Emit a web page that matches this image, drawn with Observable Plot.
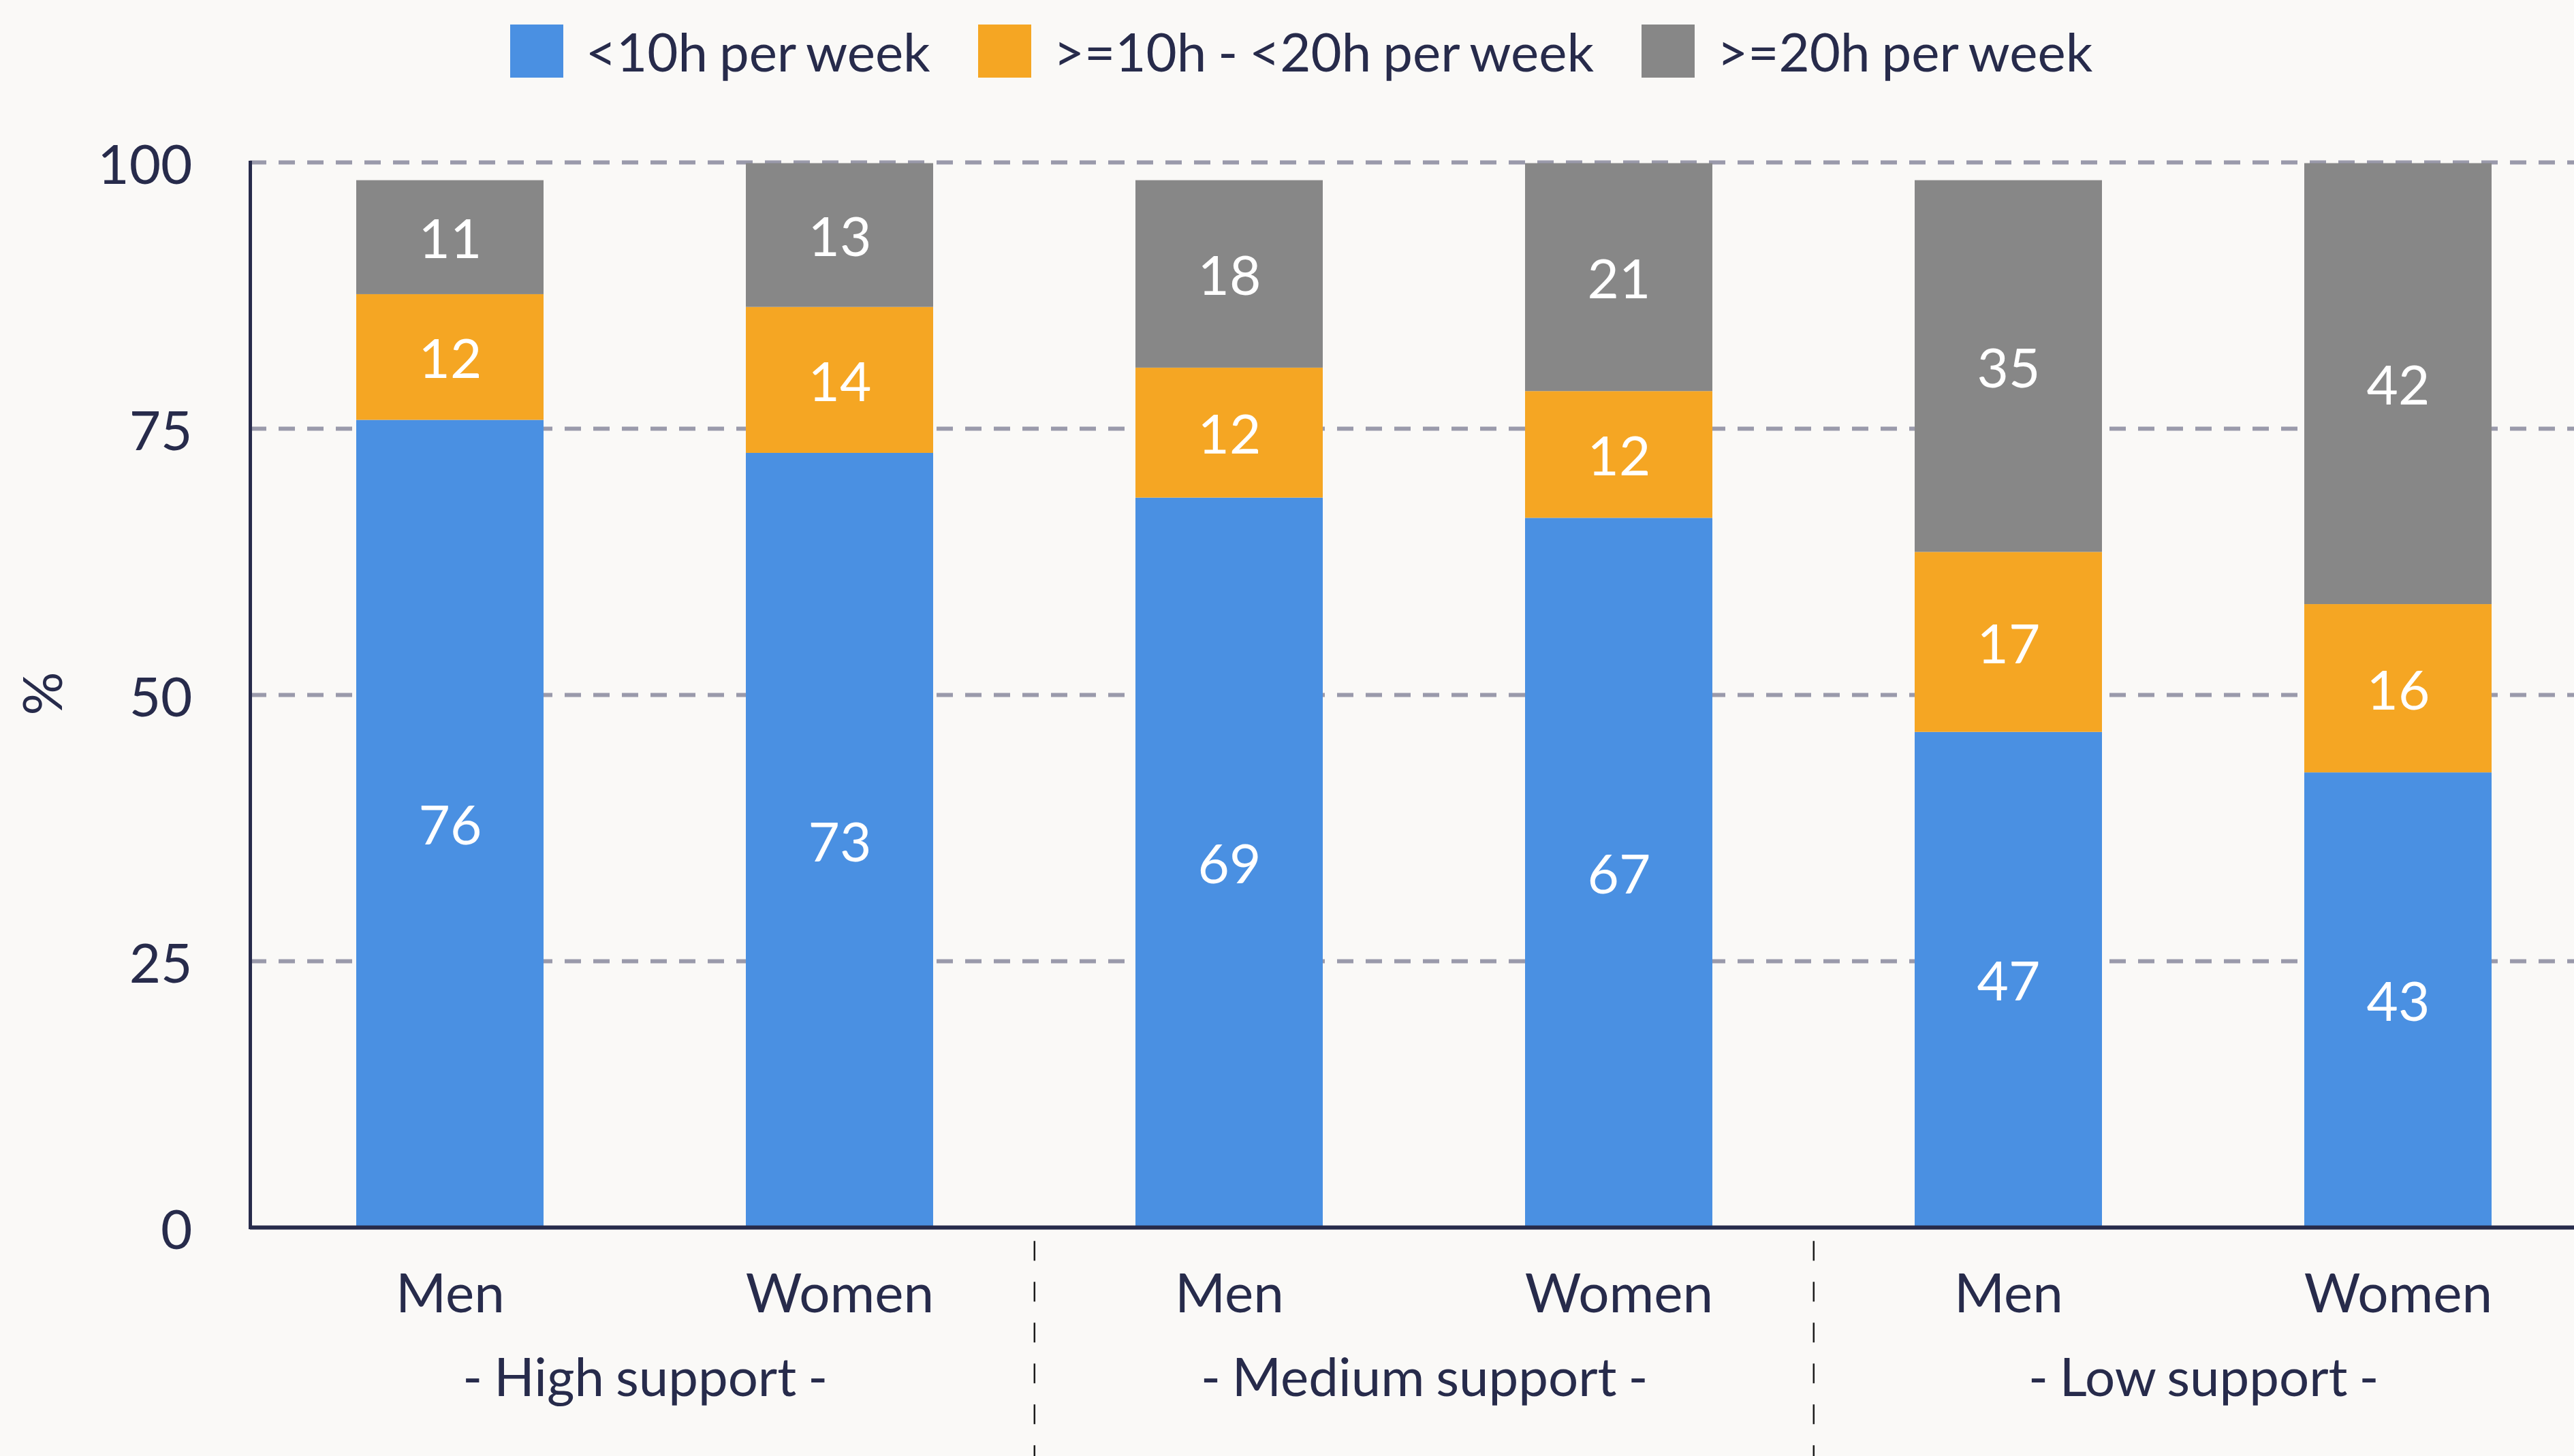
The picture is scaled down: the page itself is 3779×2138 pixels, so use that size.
<!DOCTYPE html>
<html>
<head>
<meta charset="utf-8">
<script src="https://cdn.jsdelivr.net/npm/d3@7"></script>
<script src="https://cdn.jsdelivr.net/npm/@observablehq/plot@0.6"></script>
<style>
  html, body { margin: 0; padding: 0; background: #faf9f7; overflow: hidden; width: 3779px; height: 2138px; }
  #legend { height: 150px; display: flex; justify-content: center; align-items: center; padding-left: 42px; box-sizing: border-box;
            font-family: Lato, sans-serif; font-size: 78px; color: #272b4b; line-height: 1; word-spacing: -3px; }
  .item { display: flex; align-items: center; margin-right: 70px; }
  .item:last-child { margin-right: 0; }
  .sw { width: 78px; height: 78px; margin-right: 33px; }
  #chart svg { display: block; }
  .grp text { word-spacing: -3px; }
</style>
</head>
<body>
<div id="legend"></div>
<div id="chart"></div>
<script>
// ---- data ----
const groups = ["High support", "Medium support", "Low support"];
const genders = ["Men", "Women"];
const seriesNames = ["<10h per week", ">=10h - <20h per week", ">=20h per week"];
const seriesColors = ["#4a90e2", "#f5a623", "#878787"];
// bar segment values (Men/Women for High, Medium, Low support)
const under10 = [75.8, 72.7, 68.5, 66.6, 46.5, 42.7];
const from10to20 = [11.8, 13.7, 12.2, 11.9, 16.9, 15.8];
const over20 = [10.7, 13.5, 17.6, 21.4, 34.9, 41.4];
// printed labels
const under10Labels = [76, 73, 69, 67, 47, 43];
const from10to20Labels = [12, 14, 12, 12, 17, 16];
const over20Labels = [11, 13, 18, 21, 35, 42];
const yTicks = [0, 25, 50, 75, 100];
const gridTicks = [25, 50, 75, 100];

const keys = [];
groups.forEach(g => genders.forEach(s => keys.push(g + "|" + s)));
const valueSeries = [under10, from10to20, over20];
const labelSeries = [under10Labels, from10to20Labels, over20Labels];
const rows = [];
keys.forEach((k, i) => {
  seriesNames.forEach((s, j) => rows.push({key: k, series: s, value: valueSeries[j][i], label: labelSeries[j][i]}));
});

// ---- legend ----
const legend = document.getElementById("legend");
seriesNames.forEach((s, j) => {
  const it = document.createElement("div");
  it.className = "item";
  const sw = document.createElement("div");
  sw.className = "sw";
  sw.style.background = seriesColors[j];
  const tx = document.createElement("span");
  tx.textContent = s;
  it.appendChild(sw); it.appendChild(tx);
  legend.appendChild(it);
});

// ---- chart ----
const ink = "#272b4b";
const xRange = [371.5, 3809.6];
const pInner = 0.5196, pOuter = 0.263;
const step = (xRange[1] - xRange[0]) / (keys.length - pInner + 2 * pOuter);
const menKeys = groups.map(g => g + "|Men");

const chart = Plot.plot({
  width: 3779,
  height: 1988,
  marginTop: 88,
  marginBottom: 336,
  marginLeft: 367,
  marginRight: 0,
  style: {background: "#faf9f7", fontFamily: "Lato, sans-serif", fontSize: "80px", color: ink, overflow: "visible"},
  x: {domain: keys, range: xRange, paddingInner: pInner, paddingOuter: pOuter, label: null},
  y: {domain: [0, 100], label: null},
  color: {domain: seriesNames, range: seriesColors},
  marks: [
    Plot.ruleY(gridTicks, {stroke: "#9a9aab", strokeWidth: 6, strokeDasharray: "24,18"}),
    Plot.barY(rows, {x: "key", y: "value", fill: "series", order: seriesNames}),
    Plot.text(rows, Plot.stackY({x: "key", y: "value", z: "series", order: seriesNames, text: "label", fill: "white", fontSize: 80, dy: 5})),
    Plot.frame({anchor: "left", stroke: ink, strokeWidth: 5}),
    Plot.ruleY([0], {stroke: ink, strokeWidth: 6}),
    Plot.axisY(yTicks, {tickSize: 0, tickPadding: 85, fontSize: 80, label: null, fill: ink, dy: 6}),
    Plot.axisX({tickSize: 0, tickPadding: 68, fontSize: 80, label: null, fill: ink, tickFormat: k => k.split("|")[1]}),
    Plot.axisX(menKeys, {tickSize: 0, tickPadding: 192, fontSize: 78, label: null, fill: ink, dx: step / 2, className: "grp",
                         tickFormat: k => "- " + k.split("|")[0] + " -"}),
    Plot.ruleX([keys[2], keys[4]], {dx: -step / 2, y1: -1.3, y2: -24, stroke: "#1b1b1b", strokeWidth: 2.5, strokeDasharray: "29,31"}),
    Plot.text(["%"], {frameAnchor: "left", dx: -302, dy: 30, rotate: -90, fontSize: 80, fill: ink})
  ]
});
document.getElementById("chart").appendChild(chart);
</script>
</body>
</html>
